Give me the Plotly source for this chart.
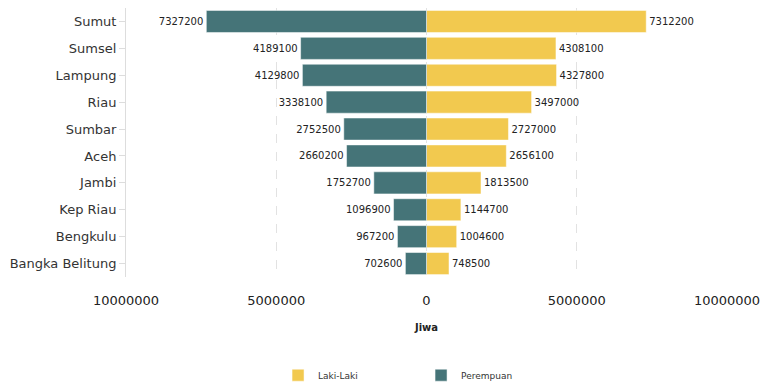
import plotly.graph_objects as go

provinsi = ["Sumut", "Sumsel", "Lampung", "Riau", "Sumbar", "Aceh", "Jambi",
            "Kep Riau", "Bengkulu", "Bangka Belitung"]
laki = [7312200, 4308100, 4327800, 3497000, 2727000, 2656100, 1813500,
        1144700, 1004600, 748500]
perempuan = [7327200, 4189100, 4129800, 3338100, 2752500, 2660200, 1752700,
             1096900, 967200, 702600]
tick_vals = [-10000000, -5000000, 0, 5000000, 10000000]
tick_text = ["10000000", "5000000", "0", "5000000", "10000000"]

YELLOW = "#F2C94F"
TEAL = "#457478"
FONT = "DejaVu Sans"

fig = go.Figure()
fig.add_trace(go.Bar(
    y=provinsi, x=laki, orientation="h", name="Laki-Laki",
    marker=dict(color=YELLOW, line=dict(color="white", width=0.5)),
    text=[str(v) for v in laki], textposition="outside",
    textfont=dict(size=10, color="#222", family=FONT), cliponaxis=False,
))
fig.add_trace(go.Bar(
    y=provinsi, x=[-v for v in perempuan], orientation="h", name="Perempuan",
    marker=dict(color=TEAL, line=dict(color="white", width=0.5)),
    text=[str(v) for v in perempuan], textposition="outside",
    textfont=dict(size=10, color="#222", family=FONT), cliponaxis=False,
))

fig.update_layout(
    width=761, height=386,
    margin=dict(l=126, r=34, t=8, b=109, autoexpand=False),
    paper_bgcolor="white", plot_bgcolor="white",
    barmode="relative", bargap=0.18,
    font=dict(family=FONT, color="#333"),
    showlegend=True,
    legend=dict(orientation="h", x=0.253, xanchor="left", y=-0.365, yanchor="middle",
                font=dict(size=9, color="#333", family=FONT),
                entrywidth=98, entrywidthmode="pixels", traceorder="normal"),
    xaxis=dict(range=[-10000000, 10000000], tickvals=tick_vals, ticktext=tick_text,
               automargin=False,
               showgrid=True, gridcolor="#e2e2e2", griddash="dash", gridwidth=1,
               zeroline=False, showline=False, ticks="",
               tickfont=dict(size=13, color="#222", family=FONT),
               ticklabelstandoff=14,
               title=dict(text="<b>Jiwa</b>", font=dict(size=10, color="#222", family=FONT),
                          standoff=16)),
    yaxis=dict(categoryorder="array", categoryarray=provinsi, autorange="reversed",
               automargin=False,
               showgrid=False, zeroline=False, showline=True, linecolor="#dddddd",
               ticks="outside", ticklen=6, tickcolor="#dddddd",
               tickfont=dict(size=13, color="#333", family=FONT)),
)

fig.write_html("out.html")
